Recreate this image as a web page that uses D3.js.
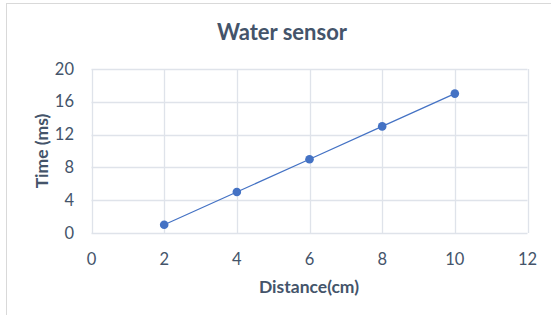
<!DOCTYPE html>
<html>
<head>
<meta charset="utf-8">
<script src="https://cdn.jsdelivr.net/npm/d3@7"></script>
<style>
  body { margin: 0; background: white; }
</style>
</head>
<body>
<div id="container"></div>
<script>
let w = 551;
let h = 315;

// data
let distance = [2, 4, 6, 8, 10];
let time = [1, 5, 9, 13, 17];
let xTicks = [0, 2, 4, 6, 8, 10, 12];
let yTicks = [0, 4, 8, 12, 16, 20];

let plotLeft = 91.5, plotRight = 527.5, plotTop = 69, plotBottom = 233;
let textColor = "#44546a";
let font = "Lato, 'Open Sans', sans-serif";

let viz = d3.select("#container").append("svg")
    .attr("width", w)
    .attr("height", h)
    .style("display", "block")
    .style("background-color", "white");

// chart border (runs off the right/bottom edge)
viz.append("rect")
    .attr("x", 6.5).attr("y", 3.5)
    .attr("width", w + 20).attr("height", h + 20)
    .attr("fill", "white")
    .attr("stroke", "#d9d9d9");

let xScale = d3.scaleLinear().domain([0, 12]).range([plotLeft, plotRight]);
let yScale = d3.scaleLinear().domain([0, 20]).range([plotBottom, plotTop]);

// gridlines
viz.append("g").selectAll("line").data(xTicks).enter()
  .append("line")
    .attr("x1", d => Math.round(xScale(d)) + 0.5)
    .attr("x2", d => Math.round(xScale(d)) + 0.5)
    .attr("y1", plotTop).attr("y2", plotBottom)
    .attr("stroke", "#dfe3ea")
    .attr("stroke-width", 1.3);

viz.append("g").selectAll("line").data(yTicks).enter()
  .append("line")
    .attr("x1", plotLeft).attr("x2", plotRight)
    .attr("y1", d => Math.round(yScale(d)) + 0.5)
    .attr("y2", d => Math.round(yScale(d)) + 0.5)
    .attr("stroke", "#dfe3ea")
    .attr("stroke-width", 1.3);

// tick labels
viz.append("g").selectAll("text").data(xTicks).enter()
  .append("text")
    .attr("x", d => xScale(d))
    .attr("y", 264.5)
    .attr("text-anchor", "middle")
    .attr("font-family", font)
    .attr("font-size", 16.5)
    .attr("fill", textColor)
    .text(d => d);

viz.append("g").selectAll("text").data(yTicks).enter()
  .append("text")
    .attr("x", 74)
    .attr("y", d => yScale(d) + 5.5)
    .attr("text-anchor", "end")
    .attr("font-family", font)
    .attr("font-size", 16.5)
    .attr("fill", textColor)
    .text(d => d);

// line + markers
let points = distance.map((d, i) => [d, time[i]]);
let lineMaker = d3.line().x(d => xScale(d[0])).y(d => yScale(d[1]));

viz.append("path")
    .datum(points)
    .attr("d", lineMaker)
    .attr("fill", "none")
    .attr("stroke", "#4472c4")
    .attr("stroke-width", 1.2);

viz.selectAll(".dot").data(points).enter()
  .append("circle")
    .attr("class", "dot")
    .attr("cx", d => xScale(d[0]))
    .attr("cy", d => yScale(d[1]))
    .attr("r", 4.3)
    .attr("fill", "#4472c4");

// titles
viz.append("text")
    .attr("x", 282)
    .attr("y", 40)
    .attr("text-anchor", "middle")
    .attr("font-family", font)
    .attr("font-weight", "bold")
    .attr("font-size", 22)
    .attr("fill", "#44546a")
    .text("Water sensor");

viz.append("text")
    .attr("x", 309)
    .attr("y", 292.5)
    .attr("text-anchor", "middle")
    .attr("font-family", font)
    .attr("font-weight", "bold")
    .attr("font-size", 17.5)
    .attr("fill", textColor)
    .text("Distance(cm)");

viz.append("text")
    .attr("transform", "translate(47.5,151) rotate(-90)")
    .attr("text-anchor", "middle")
    .attr("font-family", font)
    .attr("font-weight", "bold")
    .attr("font-size", 17.5)
    .attr("fill", textColor)
    .text("Time (ms)");
</script>
</body>
</html>
